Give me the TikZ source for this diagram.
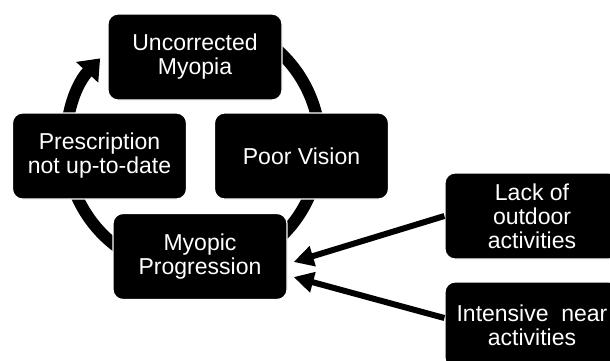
\documentclass[tikz,border=0pt]{standalone}
\usepackage{fontspec}
\setmainfont{Liberation Sans}
\usetikzlibrary{calc,arrows.meta}
\definecolor{bg}{HTML}{FFFFFF}
\definecolor{ink}{HTML}{000000}
\definecolor{text}{HTML}{FFFFFF}
\tikzset{
  stage/.style={
    draw=bg,
    line width=1.2pt,
    fill=ink,
    text=text,
    rounded corners=10pt,
    minimum width=174pt,
    minimum height=86pt,
    inner sep=2pt,
    align=center,
    font=\fontsize{23}{24}\selectfont
  },
  ring/.style={draw=ink, line width=12pt, -{Triangle[length=19pt,width=29pt]}},
  feed/.style={draw=ink, line width=6pt, -{Triangle[length=20pt,width=20pt]}}
}

\begin{document}
\begin{tikzpicture}[x=1pt,y=-1pt]

  % page area (cuts the boxes on the right edge)
  \clip (0,0) rectangle (610,360);
  \fill[bg] (0,0) rectangle (610,360);

  % cycle arrow behind the boxes
  \draw[ring] (193,145) ++(-70:127) arc[start angle=-70, end angle=223, radius=127];

  % the four stages of the cycle
  \node[stage] (uncor) at (195,57)    {Uncorrected\\Myopia};
  \node[stage] (poor)  at (301.5,156) {Poor Vision};
  \node[stage] (prog)  at (200,256.5) {Myopic\\Progression};
  \node[stage] (presc) at (99.5,156)  {Prescription\\not up-to-date};

  % risk factors
  \node[stage] (lack) at (532,216) {Lack of\\outdoor\\activities};
  \node[stage] (near) at (532,325) {Intensive\ \ near\\activities};

  % arrows into progression
  \coordinate (tipA) at ($(prog.east)+(6,5.5)$);
  \coordinate (tipB) at ($(prog.east)+(6,20.5)$);
  \draw[feed] (lack.west) -- (tipA);
  \draw[feed] ($(near.west)+(0,-7)$) -- (tipB);
\end{tikzpicture}
\end{document}
